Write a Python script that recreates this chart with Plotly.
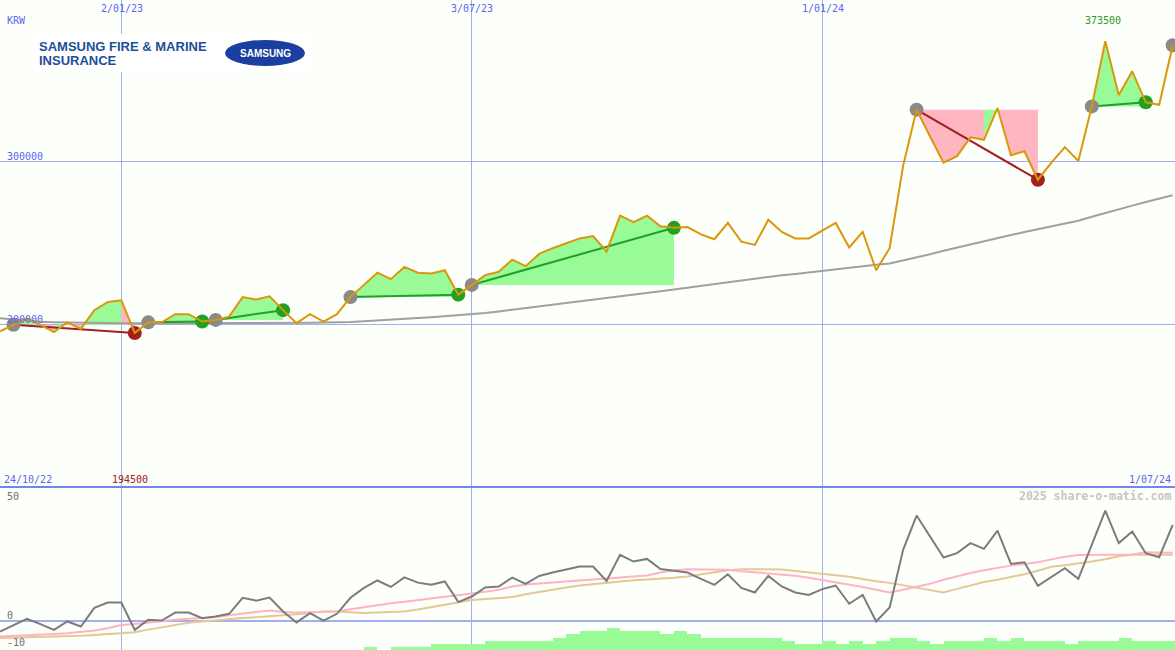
import plotly.graph_objects as go
import pandas as pd

# ---------------- data ----------------
dates = pd.date_range("2022-10-31", periods=88, freq="7D")

price = [195500, 199500, 203500, 199500, 195000, 201000, 197000, 208500, 213500, 214500,
         194500, 201000, 201000, 206000, 206000, 201500, 202500, 204500, 216500, 215000,
         217000, 208500, 200500, 206000, 201500, 206000, 216500, 224000, 231500, 227500,
         235000, 231500, 231000, 233000, 218000, 224000, 230000, 232000, 239500, 235500,
         243000, 246500, 249500, 252500, 254000, 244500, 266500, 262500, 266500, 260000,
         259000, 259500, 255000, 252000, 262000, 250500, 248500, 264000, 256500, 252500,
         252500, 257500, 262000, 247000, 256500, 233000, 246500, 297000, 331500, 315000,
         299000, 303000, 314500, 313000, 332500, 303500, 306000, 288500, 299000, 308500,
         300000, 333500, 373500, 340500, 355000, 336000, 334500, 371000]

ma = [203500, 202800, 202000, 201400, 201100, 200900, 200700, 200600, 200500, 200400,
      200400, 200400, 200400, 200400, 200400, 200400, 200400, 200400, 200400, 200400,
      200400, 200500, 200600, 200700, 200900, 201000, 201300, 201700, 202100, 202600,
      203100, 203700, 204200, 204800, 205400, 206000, 206700, 207700, 208700, 209700,
      210700, 211700, 212700, 213700, 214700, 215800, 216800, 217900, 219000, 220100,
      221200, 222300, 223700, 224800, 225800, 226800, 227900, 229000, 229900, 230700,
      231700, 232500, 233400, 234400, 235400, 236300, 237100, 238900, 240800, 242800,
      244900, 246900, 248800, 250900, 253000, 254600, 256400, 258200, 259800, 261500,
      263400, 265800, 268200, 270600, 272600, 274800, 276900, 279000]

osc = [-4.6, -2.0, 0.7, -1.5, -3.9, -0.4, -2.5, 5.3, 7.5, 7.5,
       -3.9, 0.3, 0.0, 3.3, 3.3, 1.0, 1.7, 2.8, 9.5, 8.3,
       9.6, 3.8, -0.8, 3.1, 0.0, 2.8, 9.5, 13.6, 16.7, 14.0,
       18.0, 15.8, 14.9, 16.3, 7.7, 10.0, 13.8, 14.2, 17.9, 15.3,
       18.6, 20.0, 21.1, 22.5, 22.5, 16.5, 27.4, 24.6, 25.7, 21.5,
       20.8, 20.0, 17.4, 14.9, 19.3, 13.6, 11.7, 18.6, 14.2, 11.7,
       10.7, 13.1, 14.6, 7.0, 10.7, -0.4, 5.4, 29.5, 43.8, 35.0,
       26.3, 28.1, 32.3, 29.9, 37.5, 23.6, 24.3, 14.5, 18.3, 21.8,
       17.4, 31.5, 45.8, 32.3, 37.1, 28.1, 26.4, 39.9]

osc_pink = [-6.7, -6.5, -6.2, -5.9, -5.6, -5.3, -4.8, -4.2, -3.2, -1.9,
            -1.5, -0.8, -0.2, 0.3, 0.7, 1.0, 1.5, 2.2, 2.8, 3.5,
            4.2, 3.6, 3.3, 3.4, 3.6, 3.8, 4.7, 5.6, 6.5, 7.2,
            7.8, 8.6, 9.3, 9.9, 10.5, 11.1, 12.0, 12.8, 14.2, 15.0,
            15.4, 15.8, 16.2, 16.6, 17.0, 17.4, 17.8, 18.2, 18.8, 20.0,
            21.0, 21.4, 21.4, 21.4, 21.2, 20.6, 20.2, 19.7, 19.2, 18.7,
            17.8, 16.9, 16.1, 15.0, 14.0, 12.8, 11.7, 12.8, 14.0, 15.3,
            17.0, 18.5, 19.8, 21.0, 22.1, 22.9, 23.6, 24.3, 25.5, 26.6,
            27.3, 27.4, 27.4, 27.4, 27.5, 28.5, 28.4, 28.3]

osc_tan = [-7.3, -7.2, -7.1, -7.0, -6.9, -6.7, -6.4, -6.0, -5.7, -5.3,
           -4.9, -3.8, -2.8, -1.6, -0.9, -0.4, 0.2, 0.8, 1.1, 1.4,
           1.7, 2.2, 2.6, 3.2, 3.8, 3.8, 3.5, 3.1, 3.3, 3.6,
           3.8, 4.6, 5.6, 6.8, 7.7, 8.6, 9.0, 9.3, 9.8, 11.0,
           12.0, 12.9, 13.8, 14.6, 15.2, 15.8, 16.3, 16.8, 17.1, 17.3,
           17.8, 18.4, 19.2, 20.0, 21.0, 21.4, 21.4, 21.4, 21.3, 20.7,
           20.0, 19.4, 18.9, 18.3, 17.3, 16.4, 15.7, 14.7, 13.5, 12.5,
           11.7, 13.2, 14.7, 16.1, 17.0, 18.0, 19.3, 20.8, 22.4, 23.1,
           23.7, 24.6, 25.6, 26.8, 27.4, 27.4, 27.4, 27.4]

bars = [0, 0, 0, 0, 0, 0, 0, 0, 0, 0,
        0, 0, 0, 0, 0, 0, 0, 0, 0, 0,
        0, 0, 0, 0, 0, 0, 0, 1, 0, 1,
        1, 1, 2, 2, 2, 2, 3, 3, 3, 3,
        3, 4, 5, 6, 6, 7, 6, 6, 6, 5,
        6, 5, 4, 4, 4, 4, 4, 4, 3, 2,
        2, 3, 2, 3, 2, 3, 4, 4, 3, 2,
        3, 3, 3, 4, 3, 4, 3, 3, 3, 2,
        3, 3, 3, 4, 3, 3, 3, 3]

entries = [1, 11, 16, 26, 35, 68, 81, 87]
exits = [10, 15, 21, 34, 50, 77, 85, None]

grid_dates = ["2023-01-02", "2023-07-03", "2024-01-01"]
grid_labels = ["2/01/23", "3/07/23", "1/01/24"]
price_ticks = [200000, 300000]
osc_ticks = [50, 0, -10]

# ---------------- style ----------------
BG = "#fdfffb"
GRID = "#a3aef2"
SEP = "#7685ea"
ORANGE = "#dc960a"
GREEN_FILL = "#98fb98"
PINK_FILL = "#ffb6c1"
WIN = "#22a022"
LOSS = "#a31f1f"
MONO = "DejaVu Sans Mono"
W, H = 1175, 650
TOP_H = 487

x_range = [dates[0], dates[0] + pd.Timedelta(days=610.2)]

fig = go.Figure()

# trade fills (per segment, coloured by end point vs entry price)
gx, gy, px_, py_ = [], [], [], []
for e, x in zip(entries, exits):
    if x is None:
        continue
    E = price[e]
    for k in range(e, x):
        xs = [dates[k], dates[k], dates[k + 1], dates[k + 1], dates[k], None]
        ys = [E, price[k], price[k + 1], E, E, None]
        if price[k + 1] >= E:
            gx += xs; gy += ys
        else:
            px_ += xs; py_ += ys
fig.add_trace(go.Scatter(x=gx, y=gy, fill="toself", fillcolor=GREEN_FILL, mode="none",
                         hoverinfo="skip", xaxis="x", yaxis="y"))
fig.add_trace(go.Scatter(x=px_, y=py_, fill="toself", fillcolor=PINK_FILL, mode="none",
                         hoverinfo="skip", xaxis="x", yaxis="y"))

# moving average
fig.add_trace(go.Scatter(x=dates, y=ma, mode="lines", line=dict(color="#a0a0a0", width=2),
                         xaxis="x", yaxis="y"))

# trade lines
for e, x in zip(entries, exits):
    if x is None:
        continue
    col = WIN if price[x] >= price[e] else LOSS
    fig.add_trace(go.Scatter(x=[dates[e], dates[x]], y=[price[e], price[x]], mode="lines",
                             line=dict(color=col, width=2), xaxis="x", yaxis="y"))

# markers
fig.add_trace(go.Scatter(x=[dates[e] for e in entries], y=[price[e] for e in entries],
                         mode="markers", marker=dict(color="#8a8a8a", size=14),
                         xaxis="x", yaxis="y"))
ex_idx = [x for x in exits if x is not None]
ex_col = [WIN if price[x] >= price[e] else LOSS for e, x in zip(entries, exits) if x is not None]
fig.add_trace(go.Scatter(x=[dates[x] for x in ex_idx], y=[price[x] for x in ex_idx],
                         mode="markers", marker=dict(color=ex_col, size=14),
                         xaxis="x", yaxis="y"))

# price
fig.add_trace(go.Scatter(x=dates, y=price, mode="lines", line=dict(color=ORANGE, width=2),
                         xaxis="x", yaxis="y"))

# lower panel
fig.add_trace(go.Bar(x=dates, y=bars, offset=0, width=7 * 86400000,
                     marker=dict(color=GREEN_FILL, line=dict(width=0)),
                     xaxis="x2", yaxis="y3"))
fig.add_trace(go.Scatter(x=dates, y=osc_tan, mode="lines", line=dict(color="#e3c994", width=2),
                         xaxis="x2", yaxis="y2"))
fig.add_trace(go.Scatter(x=dates, y=osc_pink, mode="lines", line=dict(color="#ffb3c3", width=2),
                         xaxis="x2", yaxis="y2"))
fig.add_trace(go.Scatter(x=dates, y=osc, mode="lines", line=dict(color="#7c7c7c", width=2),
                         xaxis="x2", yaxis="y2"))

split = (H - TOP_H) / H
axis_common = dict(showline=False, zeroline=False, ticks="", showticklabels=False, fixedrange=True)

fig.update_layout(
    width=W, height=H, margin=dict(l=0, r=0, t=0, b=0),
    paper_bgcolor=BG, plot_bgcolor=BG, showlegend=False, bargap=0,
    xaxis=dict(domain=[0, 1], range=x_range, type="date", tickvals=grid_dates,
               showgrid=True, gridcolor=GRID, gridwidth=1, anchor="y", **axis_common),
    yaxis=dict(domain=[split, 1], range=[100000, 398773], tickvals=price_ticks,
               showgrid=True, gridcolor=GRID, gridwidth=1, anchor="x", **axis_common),
    xaxis2=dict(domain=[0, 1], range=x_range, type="date", tickvals=grid_dates,
                showgrid=True, gridcolor=GRID, gridwidth=1, anchor="y2", **axis_common),
    yaxis2=dict(domain=[0, split], range=[-12.3, 55.7], tickvals=[0],
                showgrid=True, gridcolor=GRID, gridwidth=2, anchor="x2", **axis_common),
    yaxis3=dict(domain=[0, split], range=[0, 52.5], overlaying="y2", showgrid=False,
                anchor="x2", **axis_common),
)

def py(ypx):
    return 1 - ypx / H

def px(xpx):
    return xpx / W

# panel separator
fig.add_shape(type="line", xref="paper", yref="paper", x0=0, x1=1, y0=py(TOP_H), y1=py(TOP_H),
              line=dict(color=SEP, width=2))

# logo background + logo
fig.add_shape(type="rect", xref="paper", yref="paper", x0=px(33), x1=px(312), y0=py(72), y1=py(34),
              fillcolor="#ffffff", line=dict(width=0), layer="above")
fig.add_shape(type="circle", xref="paper", yref="paper", x0=px(225), x1=px(305), y0=py(66), y1=py(40),
              fillcolor="#1a3fa0", line=dict(width=0), layer="above")

ann = []
def text(s, x, y, color, size=10, xanchor="left", family=MONO, bold=False):
    ann.append(dict(text=("<b>%s</b>" % s) if bold else s, x=px(x), y=py(y), xref="paper", yref="paper",
                    xanchor=xanchor, yanchor="middle", showarrow=False,
                    font=dict(family=family, size=size, color=color)))

LOGO_FONT = "Liberation Sans, Arial"
text("SAMSUNG FIRE &amp; MARINE", 37, 46, "#1d4f98", size=13, family=LOGO_FONT, bold=True)
text("INSURANCE", 37, 61, "#1d4f98", size=13, family=LOGO_FONT, bold=True)
text("SAMSUNG", 265, 53, "#ffffff", size=10, xanchor="center", family="Liberation Sans", bold=True)

BLUE_TXT = "#5a66f0"
text("KRW", 5, 21, BLUE_TXT)
for d, lab in zip(grid_dates, grid_labels):
    k = (pd.Timestamp(d) - dates[0]).days / 7.0
    text(lab, k * 13.48 + 0.5, 8, BLUE_TXT, xanchor="center")
for v in price_ticks:
    text("%d" % v, 5, 324 - (v - 200000) / 613.5 - 5, BLUE_TXT)
text("24/10/22", 2, 479, BLUE_TXT)
text("1/07/24", 1173, 479, BLUE_TXT, xanchor="right")
text("%d" % min(price), 110, 479, "#a02020")
text("%d" % max(price), 1083, 20, "#2a9a2a")
osc_y = {50: 496, 0: 615, -10: 642}
for v in osc_ticks:
    text("%d" % v, 5, osc_y[v], "#707070")
text("2025 share-o-matic.com", 1173, 496, "#c6c6c6", size=11.5, xanchor="right", bold=True)

fig.update_layout(annotations=ann)
fig.write_html("out.html", config={"displayModeBar": False},
               post_script="document.body.style.margin='0';document.body.style.padding='0';")
